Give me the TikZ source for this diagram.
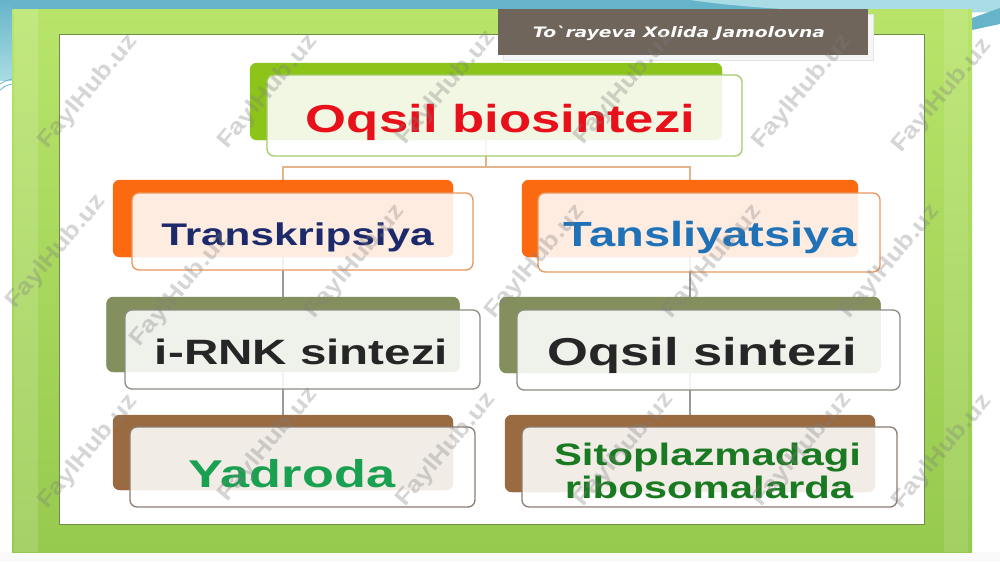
\documentclass[tikz,border=0pt]{standalone}
\usepackage{fontspec}
\setmainfont{Liberation Sans}
\newfontfamily\labfont[FakeStretch=1.35]{Liberation Sans}
\newfontfamily\ttlfont[FakeStretch=1.3]{DejaVu Sans Bold Oblique}
\newfontfamily\wmfont[FakeStretch=1.15]{Liberation Sans}
\definecolor{tealA}{HTML}{66B4C9}
\definecolor{tealB}{HTML}{A9DCE4}
\definecolor{grnTop}{HTML}{B8E46A}
\definecolor{grnBot}{HTML}{96CA4E}
\definecolor{panelEdge}{HTML}{6E8C45}
\definecolor{titleBg}{HTML}{6F655B}
\definecolor{cGreenBk}{HTML}{8CC41A}
\definecolor{cGreenEd}{HTML}{A4CC6C}
\definecolor{cOrangeBk}{HTML}{FB6A10}
\definecolor{cOrangeEd}{HTML}{E8975C}
\definecolor{cOliveBk}{HTML}{838F5C}
\definecolor{cOliveEd}{HTML}{8C8C84}
\definecolor{cBrownBk}{HTML}{9A6A40}
\definecolor{cBrownEd}{HTML}{8C7C72}
\definecolor{tRed}{HTML}{E8101A}
\definecolor{tNavy}{HTML}{1C2A6B}
\definecolor{tBlue}{HTML}{1F72B8}
\definecolor{tDark}{HTML}{262626}
\definecolor{tGreen}{HTML}{19A050}
\definecolor{tDGreen}{HTML}{1A7A22}
\definecolor{tanLine}{HTML}{E2B48C}
\definecolor{greyLine}{HTML}{9A9A9A}
\begin{document}
\begin{tikzpicture}[x=1pt,y=-1pt,
  backbox/.style={rounded corners=7pt, fill=#1, inner sep=0pt},
  frontbox/.style={rounded corners=7pt, draw=#1, line width=1.3pt, fill=white,
     fill opacity=0.88, inner sep=0pt},
  lbl/.style={anchor=base, inner sep=0pt},
  tanconn/.style={draw=tanLine, line width=1.3pt},
  greyconn/.style={draw=greyLine, line width=1.3pt},
  wm/.style={text=gray, opacity=0.33, font=\wmfont\bfseries\fontsize{23}{23}\selectfont, rotate=50, inner sep=0pt}]
\useasboundingbox (0,0) rectangle (1000,562);
% background
\fill[white!96!gray] (0,0) rectangle (1000,562);
\fill[white] (0,0) rectangle (1000,552);
\fill[tealA] (0,0) rectangle (1000,10);
\fill[tealB] (690,0) .. controls (780,13) and (900,14) .. (1000,12) -- (1000,0) -- cycle;
\fill[tealA] (972,18) -- (1000,8) -- (1000,24) -- (972,30) -- cycle;
\fill[top color=tealA, bottom color=tealB] (0,0) rectangle (12,80);
\draw[tealA, line width=0.8pt] (0,84) .. controls (5,81) .. (12,79);
\draw[tealA, line width=0.8pt] (0,90) .. controls (5,86) .. (12,84);
% green frame
\fill[top color=grnTop, bottom color=grnBot] (12,9) rectangle (972,552);
\fill[white, opacity=0.15] (14,9) rectangle (38,552);
\fill[white, opacity=0.12] (944,9) rectangle (968,552);
% white panel
\filldraw[fill=white, draw=panelEdge, line width=1pt] (59,34) rectangle (924,524);
% title box
\filldraw[fill=white!92!gray, draw=white!80!gray, line width=0.6pt] (503,14) rectangle (873,60);
\fill[titleBg] (498,9) rectangle (868,55);
\node[text=white!97!gray, font=\ttlfont\fontsize{14.4}{15}\selectfont, inner sep=0pt] (author) at (679,33) {To`rayeva Xolida Jamolovna};
% back boxes
\node[backbox=cGreenBk, minimum width=472pt, minimum height=77pt] (topb) at (486,101.5) {};
\node[backbox=cOrangeBk, minimum width=340pt, minimum height=77pt] (trb) at (283,218.5) {};
\node[backbox=cOrangeBk, minimum width=336pt, minimum height=77pt] (tlb) at (690,218.5) {};
\node[backbox=cOliveBk, minimum width=353pt, minimum height=75pt] (irb) at (283,334.5) {};
\node[backbox=cOliveBk, minimum width=381pt, minimum height=76pt] (oqb) at (690,335) {};
\node[backbox=cBrownBk, minimum width=340pt, minimum height=75pt] (yab) at (283,452.5) {};
\node[backbox=cBrownBk, minimum width=370pt, minimum height=77pt] (sib) at (690,453.5) {};
% connectors
\coordinate (split) at (486,167);
\draw[tanconn] (topb.center) -- (split);
\draw[tanconn] (trb.center) |- (split) -| (tlb.center);
\draw[greyconn] (trb.center) -- (irb.center) -- (yab.center);
\draw[greyconn] (tlb.center) -- (oqb.center) -- (sib.center);
% back boxes again over the connector
\fill[cGreenBk, rounded corners=7pt] (topb.south west) rectangle (topb.north east);
\fill[cOrangeBk, rounded corners=7pt] (trb.south west) rectangle (trb.north east);
\fill[cOrangeBk, rounded corners=7pt] (tlb.south west) rectangle (tlb.north east);
\fill[cOliveBk, rounded corners=7pt] (irb.south west) rectangle (irb.north east);
\fill[cOliveBk, rounded corners=7pt] (oqb.south west) rectangle (oqb.north east);
\fill[cBrownBk, rounded corners=7pt] (yab.south west) rectangle (yab.north east);
\fill[cBrownBk, rounded corners=7pt] (sib.south west) rectangle (sib.north east);
% front boxes
\node[frontbox=cGreenEd, minimum width=475pt, minimum height=81pt] (top) at (504.5,115.5) {};
\node[frontbox=cOrangeEd, minimum width=341pt, minimum height=77pt] (tr) at (302.5,231.5) {};
\node[frontbox=cOrangeEd, minimum width=342pt, minimum height=79pt] (tl) at (709,232.5) {};
\node[frontbox=cOliveEd, minimum width=355pt, minimum height=79pt] (ir) at (302.5,349.5) {};
\node[frontbox=cOliveEd, minimum width=383pt, minimum height=80pt] (oq) at (708.5,350) {};
\node[frontbox=cBrownEd, minimum width=345pt, minimum height=80pt] (ya) at (302.5,467) {};
\node[frontbox=cBrownEd, minimum width=375pt, minimum height=80pt] (si) at (709.5,467) {};
% labels
\node[lbl, text=tRed, font=\labfont\bfseries\fontsize{39}{44}\selectfont] (topt) at (500.5,132) {Oqsil biosintezi};
\node[lbl, text=tNavy, font=\labfont\bfseries\fontsize{31.3}{36}\selectfont] (trt) at (297.5,245) {Transkripsiya};
\node[lbl, text=tBlue, font=\labfont\bfseries\fontsize{34.9}{40}\selectfont] (tlt) at (710,246) {Tansliyatsiya};
\node[lbl, text=tDark, font=\labfont\bfseries\fontsize{35.2}{40}\selectfont] (irt) at (301.5,364) {i-RNK sintezi};
\node[lbl, text=tDark, font=\labfont\bfseries\fontsize{38.9}{44}\selectfont] (oqt) at (702.5,365) {Oqsil sintezi};
\node[lbl, text=tGreen, font=\labfont\bfseries\fontsize{38.7}{44}\selectfont] (yat) at (292,487) {Yadroda};
\node[lbl, text=tDGreen, font=\labfont\bfseries\fontsize{31}{34}\selectfont] (sit1) at (707.5,465) {Sitoplazmadagi};
\node[lbl, text=tDGreen, font=\labfont\bfseries\fontsize{31}{34}\selectfont] (sit2) at (709,498) {ribosomalarda};
% watermarks
\foreach \wx/\wy [count=\i] in {88/92, 268/92, 446/88, 624/88, 802/92, 942/96,
   56/252, 180/290, 355/262, 535/262, 712/262, 890/262,
   88/452, 268/445, 446/450, 624/450, 802/450, 942/452}
  \node[wm] (wm\i) at (\wx,\wy) {FaylHub.uz};
\end{tikzpicture}
\end{document}
